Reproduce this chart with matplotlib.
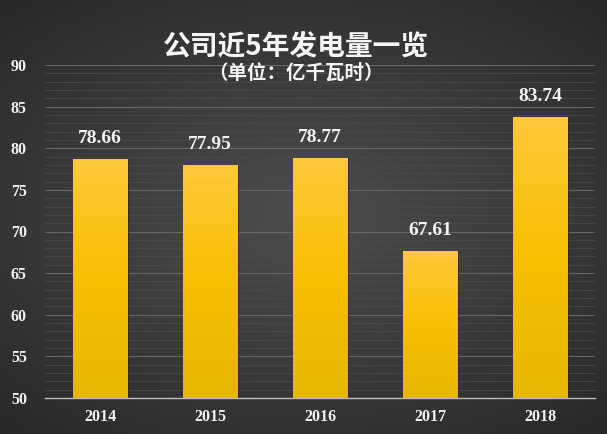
import numpy as np
import matplotlib.pyplot as plt
from matplotlib.colors import LinearSegmentedColormap

years = ['2014', '2015', '2016', '2017', '2018']
output = [78.66, 77.95, 78.77, 67.61, 83.74]
yticks = [50, 55, 60, 65, 70, 75, 80, 85, 90]

plt.rcParams['font.family'] = ['Liberation Serif', 'Noto Sans CJK SC']

fig = plt.figure(figsize=(6.07, 4.34), dpi=100)

# radial background
bg = fig.add_axes([0, 0, 1, 1])
yy, xx = np.mgrid[-1:1:300j, -1:1:400j]
r = np.sqrt((xx * 0.9) ** 2 + (yy * 1.0) ** 2)
bg_cmap = LinearSegmentedColormap.from_list('bg', ['#4d4d4d', '#3a3a3a', '#262626'])
bg.imshow(r, cmap=bg_cmap, aspect='auto', extent=[0, 1, 0, 1], vmin=0, vmax=1.4)
bg.axis('off')

ax = fig.add_axes([45 / 607, 36 / 434, 550 / 607, 333 / 434])
ax.patch.set_alpha(0)

# faint minor grid every 1 unit, stronger every 5
for v in np.arange(51, 90):
    if v % 5:
        ax.axhline(v, color='#4a4a4a', lw=0.6, zorder=0)
for v in yticks[1:]:
    ax.axhline(v, color='#666666', lw=0.8, zorder=0)

bar_cmap = LinearSegmentedColormap.from_list('bar', ['#e6b600', '#f7c000', '#ffc83a'])
bars = ax.bar(range(len(years)), output, width=0.5, bottom=0, color='none',
              edgecolor='#2a2a2a', linewidth=0.6, zorder=2)
grad = np.linspace(0, 1, 256).reshape(-1, 1)
for b, val in zip(bars, output):
    x0 = b.get_x()
    im = ax.imshow(grad, cmap=bar_cmap, origin='lower', aspect='auto',
                   extent=[x0, x0 + b.get_width(), 50, val], zorder=3)
    im.set_clip_path(b)
    ax.text(b.get_x() + b.get_width() / 2, val + 1.5, f'{val:.2f}',
            ha='center', va='bottom', color='#f2f2f2', fontsize=14,
            fontweight='bold')
ax.set_xlim(-0.5, 4.5)
ax.set_ylim(50, 90)

ax.set_xticks(range(len(years)))
ax.set_xticklabels(years)
ax.set_yticks(yticks)
ax.tick_params(colors='#f2f2f2', length=0, labelsize=11.5, pad=8)
ax.tick_params(axis='y', pad=13)
for lab in ax.get_xticklabels() + ax.get_yticklabels():
    lab.set_fontweight('bold')
for s in ['top', 'right', 'left']:
    ax.spines[s].set_visible(False)
ax.spines['bottom'].set_color('#bdbdbd')
ax.spines['bottom'].set_linewidth(1.0)
ax.spines['bottom'].set_zorder(4)

fig.text(0.487, 1 - 46 / 434, '公司近5年发电量一览', ha='center', va='center',
         color='#f5f5f5', fontsize=20, fontweight='bold',
         family=['Noto Sans CJK SC', 'DejaVu Sans'])
fig.text(0.487, 1 - 73 / 434, '（单位：亿千瓦时）', ha='center', va='center',
         color='#f5f5f5', fontsize=14, fontweight='bold',
         family=['Noto Sans CJK SC', 'DejaVu Sans'])

fig.savefig('out.png', dpi=100)
